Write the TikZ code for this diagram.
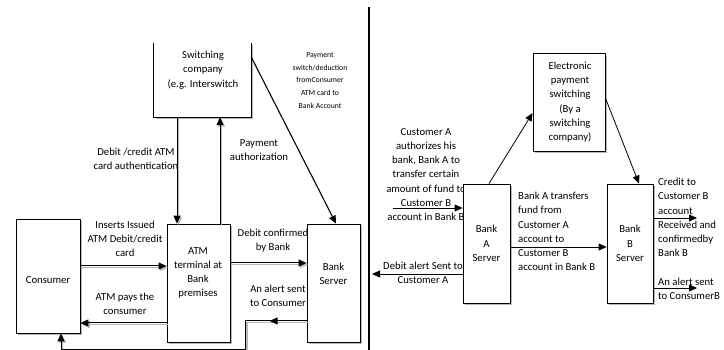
\documentclass[tikz,border=0pt]{standalone}
\usepackage{fontspec}
\setmainfont{Carlito}
\usetikzlibrary{arrows.meta,shadows}
\begin{document}
\begin{tikzpicture}[x=1pt,y=-1pt,
  txt/.style={font=\fontsize{10.7}{14}\selectfont, align=center, inner sep=0pt},
  rtxt/.style={font=\fontsize{10.7}{14.3}\selectfont, align=center, inner sep=0pt},
  ltxt/.style={font=\fontsize{10.7}{14.3}\selectfont, align=left, inner sep=0pt, anchor=west},
  small/.style={font=\fontsize{7.7}{12.7}\selectfont, align=center, inner sep=0pt},
  box/.style={draw=black, line width=0.8pt, fill=white, inner sep=0pt,
    drop shadow={shadow xshift=1.8pt, shadow yshift=-1.8pt, fill=gray!55, opacity=1}},
  arr/.style={-{Triangle[length=8pt,width=7pt]}},
  dbl/.style={line width=1pt,
    preaction={draw=gray!55, line width=1.5pt, transform canvas={shift={(1.5pt,-1.5pt)}}}},
  thin/.style={line width=0.8pt}
]
\useasboundingbox (0,0) rectangle (724,350);

% ---------- left panel: ATM withdrawal ----------
% switching company box (open at the top)
\node[minimum width=97pt, minimum height=74pt, inner sep=0pt] (sw) at (202.5,80) {};
\fill[gray!55] ([shift={(1.8pt,-1.8pt)}]sw.north west) rectangle ([shift={(1.8pt,-1.8pt)}]sw.south east);
\fill[white] (sw.north west) rectangle (sw.south east);
\draw[line width=0.8pt] (sw.north west) -- (sw.south west) -- (sw.south east) -- (sw.north east);
\node[txt, font=\fontsize{10.7}{14.5}\selectfont] (swt) at (203,70) {Switching\\company\\(e.g. Interswitch};

\node[small] (payt) at (320,80.5) {Payment\\switch/deduction\\fromConsumer\\ATM card to\\Bank Account};
\node[txt] (autht) at (136,159) {Debit /credit ATM\\card authentication};
\node[txt] (payauth) at (259,150) {Payment\\authorization};
\node[txt] (inst) at (125,239) {Inserts Issued\\ATM Debit/credit\\card};
\node[txt] (payst) at (125,303.5) {ATM pays the\\consumer};
\node[txt] (conft) at (273,240.5) {Debit confirmed\\by Bank};
\node[txt] (alertt) at (278,296) {An alert sent\\to Consumer};

\node[box, minimum width=64pt, minimum height=114pt] (cons) at (48,276) {};
\node[box, minimum width=63pt, minimum height=118pt] (atm) at (198.5,283) {};
\node[box, minimum width=53pt, minimum height=118pt] (bsrv) at (333.5,283) {};

\node[txt] (const) at (48,280) {Consumer};
\node[txt] (atmt) at (198,273) {ATM\\terminal at\\Bank\\premises};
\node[txt] (bsrvt) at (333.5,274) {Bank\\Server};

% connectors
\draw[dbl,arr] ([yshift=10pt]cons.east) -- ([yshift=17pt]atm.west);
\draw[dbl,arr] ([yshift=-40pt]atm.west) -- ([yshift=-47pt]cons.east);
\draw[dbl,arr] ([yshift=20pt]atm.east) -- ([yshift=20pt]bsrv.west);
\draw[dbl,arr] ([xshift=-25.5pt]sw.south) -- ([xshift=-21.5pt]atm.north);
\draw[dbl,arr] ([xshift=21.5pt]atm.north) -- ([xshift=17.5pt]sw.south);
\draw[line width=1.1pt,arr] ([yshift=23pt]sw.east) -- ([xshift=2.5pt]bsrv.north);
\draw[dbl,arr] ([yshift=-38pt]bsrv.west) -- ++(-61,0) -- ++(0,28) -| ([xshift=13pt]cons.south);
\draw[line width=1pt,arr] ([yshift=-38pt]bsrv.west) -- ++(-37,0);

% divider
\draw[line width=1.4pt] (369,7) -- (369,350);

% ---------- right panel: bank transfer ----------
\node[rtxt] (custt) at (426,174.5) {Customer A\\authorizes his\\bank, Bank A to\\transfer certain\\amount of fund to\\Customer B\\account in Bank B};
\node[rtxt] (dbalt) at (423,273) {Debit alert Sent to\\Customer A};
\node[ltxt] (trant) at (518,231.5) {Bank A transfers\\fund from\\Customer A\\account to\\Customer B\\account in Bank B};
\node[ltxt] (credt) at (658,217.5) {Credit to\\Customer B\\account\\Received and\\confirmedby\\Bank B};
\node[ltxt] (alBt) at (658,289) {An alert sent\\to ConsumerB};

\node[box, minimum width=72pt, minimum height=98pt] (ep) at (569,102) {};
\node[box, minimum width=47pt, minimum height=119pt] (bka) at (486.5,243.5) {};
\node[box, minimum width=46pt, minimum height=119pt] (bkb) at (630,243.5) {};

\node[rtxt] (ept) at (570,102) {Electronic\\payment\\switching\\(By a\\switching\\company)};
\node[rtxt] (bkat) at (486.5,243.5) {Bank\\A\\Server};
\node[rtxt] (bkbt) at (630,243.5) {Bank\\B\\Server};

\coordinate (inA) at (393,208);
\coordinate (outA) at (372,274);
\coordinate (outB1) at (697,218);
\coordinate (outB2) at (697,288);

\draw[thin,arr] (inA) -- ([yshift=35.5pt]bka.west);
\draw[thin,arr] ([yshift=-30.5pt]bka.west) -- (outA);
\draw[thin,arr] ([yshift=-3.5pt]bka.east) -- ([yshift=-3.5pt]bkb.west);
\draw[thin,arr] ([xshift=2.5pt]bka.north) -- ([yshift=-11pt]ep.west);
\draw[thin,arr] ([yshift=4pt]ep.east) -- ([xshift=9pt]bkb.north);
\draw[thin,arr] ([yshift=25.5pt]bkb.east) -- (outB1);
\draw[thin,arr] ([yshift=-44.5pt]bkb.east) -- (outB2);
\end{tikzpicture}
\end{document}
